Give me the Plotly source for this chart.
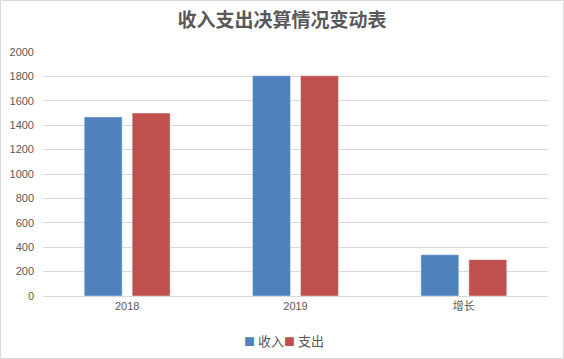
import plotly.graph_objects as go

categories = ["2018", "2019", "增长"]
income = [1467, 1805, 338]
expense = [1500, 1805, 298]
series_names = ["收入", "支出"]
series_colors = ["#4F81BD", "#C0504D"]
title_text = "收入支出决算情况变动表"

L, R, T, B = 43, 16, 52, 63
W, H = 564, 359
pw, ph = W - L - R, H - T - B

fig = go.Figure()
for name, vals, col in zip(series_names, [income, expense], series_colors):
    fig.add_trace(go.Bar(x=categories, y=vals, name=name, marker_color=col, showlegend=False))

# legend drawn as text items
leg_y = (T + ph - 340) / ph
leg_x = [(242 - L) / pw, (282 - L) / pw]
annotations = []
for name, col, x in zip(series_names, series_colors, leg_x):
    annotations.append(dict(
        text="<span style='color:%s;font-size:11px'>■</span><span style='font-size:13px'> %s</span>" % (col, name),
        xref="paper", yref="paper", x=x, y=leg_y, xanchor="left", yanchor="middle",
        showarrow=False, font=dict(family="Noto Sans CJK SC", size=13, color="#595959")))

fig.update_layout(
    width=W, height=H,
    margin=dict(l=L, r=R, t=T, b=B, pad=0),
    paper_bgcolor="white", plot_bgcolor="white",
    barmode="group", bargap=0.43, bargroupgap=0.21,
    showlegend=False,
    title=dict(text="<b>" + title_text + "</b>", x=0.5, xanchor="center", y=1 - 20 / H, yanchor="middle",
               font=dict(family="Noto Sans CJK SC", size=19, color="#595959")),
    font=dict(family="Liberation Sans, Noto Sans CJK SC", size=11, color="#595959"),
    xaxis=dict(showgrid=False, showline=True, linecolor="#D9D9D9", ticks="", automargin=False,
               tickfont=dict(family="Liberation Sans, Noto Sans CJK SC", size=11, color="#595959")),
    yaxis=dict(range=[0, 2000], dtick=200, showgrid=True, gridcolor="#D9D9D9", zeroline=False,
               ticks="", ticklabelstandoff=8, automargin=False, tickfont=dict(size=11, color="#595959")),
    annotations=annotations,
    shapes=[dict(type="rect", xref="paper", yref="paper",
                 x0=(0.5 - L) / pw, x1=(W - 0.5 - L) / pw,
                 y0=(T + ph - (H - 0.5)) / ph, y1=(T + ph - 0.5) / ph,
                 line=dict(color="#D9D9D9", width=1), layer="below")],
)
fig.write_html("out.html", config={"displayModeBar": False})

with open("out.html", encoding="utf-8") as f:
    html = f.read()
html = html.replace("<head>", "<head><style>html,body{margin:0;padding:0;overflow:hidden;}</style>", 1)
with open("out.html", "w", encoding="utf-8") as f:
    f.write(html)
